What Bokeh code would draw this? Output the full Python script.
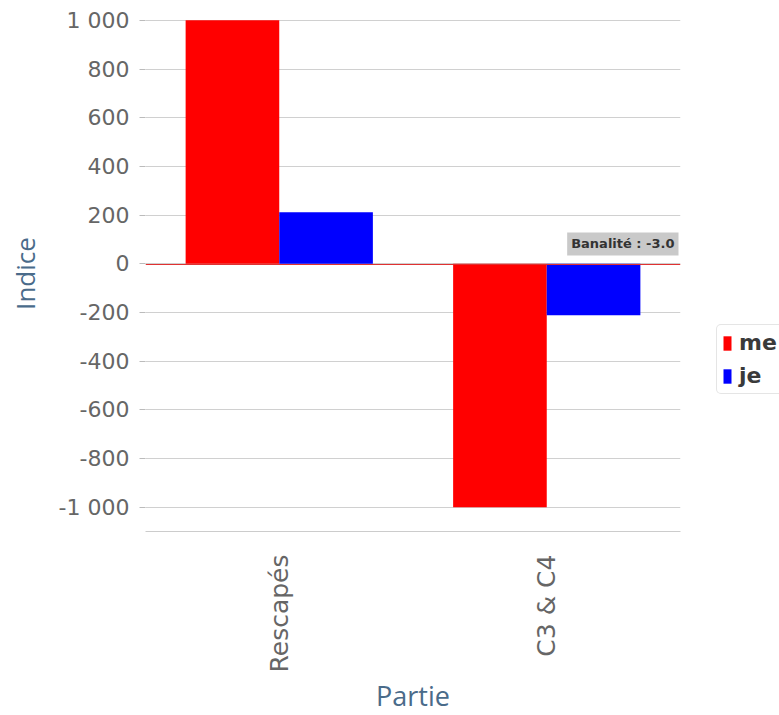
import math
from bokeh.plotting import figure
from bokeh.models import ColumnDataSource, FixedTicker, Span, Label, Legend, LegendItem, Range1d
from bokeh.transform import dodge
from bokeh.embed import file_html
from bokeh.resources import INLINE

categories = ["Rescapés", "C3 & C4"]
me_values = [1000, -1000]
je_values = [212, -212]
threshold = -3.0
threshold_label = "Banalité : -3.0"
y_ticks = [-1000, -800, -600, -400, -200, 0, 200, 400, 600, 800, 1000]
y_tick_labels = ["-1 000", "-800", "-600", "-400", "-200", "0", "200", "400", "600", "800", "1 000"]

src = ColumnDataSource(dict(cat=categories, me=me_values, je=je_values))

p = figure(x_range=categories, y_range=Range1d(-1100, 1020),
           frame_width=535, frame_height=516,
           min_border_left=145, min_border_right=99, min_border_top=15, min_border_bottom=180,
           output_backend="svg", toolbar_location=None)
p.outline_line_color = None
p.background_fill_color = "white"

r_me = p.vbar(x=dodge("cat", -0.175, range=p.x_range), top="me", width=0.35, source=src,
              fill_color="#ff0000", line_color=None)
r_je = p.vbar(x=dodge("cat", 0.175, range=p.x_range), top="je", width=0.35, source=src,
              fill_color="#0000ff", line_color=None)

p.add_layout(Span(location=threshold, dimension="width", line_color="#e03030", line_width=1))
p.add_layout(Label(x=533, y=threshold, x_units="screen", y_units="data", text=threshold_label,
                   text_align="right", text_baseline="bottom", y_offset=9,
                   text_font="DejaVu Sans", text_font_size="13px", text_font_style="bold",
                   text_color="#333333",
                   background_fill_color="#c6c6c6", background_fill_alpha=0.95,
                   padding=4))

# axes
p.yaxis.ticker = FixedTicker(ticks=y_ticks)
p.yaxis.major_label_overrides = {t: l for t, l in zip(y_ticks, y_tick_labels)}
p.yaxis.major_label_text_font = "DejaVu Sans"
p.yaxis.major_label_text_font_size = "22px"
p.yaxis.major_label_text_color = "#666666"
p.yaxis.axis_line_color = None
p.yaxis.major_tick_line_color = "#bbbbbb"
p.yaxis.major_tick_out = 6
p.yaxis.major_tick_in = 0
p.yaxis.minor_tick_line_color = None
p.yaxis.major_label_standoff = 10
p.yaxis.axis_label = "Indice"
p.yaxis.axis_label_text_font = "Open Sans"
p.yaxis.axis_label_text_font_size = "26px"
p.yaxis.axis_label_text_font_style = "normal"
p.yaxis.axis_label_text_color = "#4a6b8a"
p.yaxis.axis_label_standoff = 13

p.xaxis.major_label_orientation = math.pi / 2
p.xaxis.major_label_text_font = "DejaVu Sans"
p.xaxis.major_label_text_font_size = "25px"
p.xaxis.major_label_text_color = "#666666"
p.xaxis.major_label_standoff = 17
p.xaxis.axis_line_color = "#cccccc"
p.xaxis.major_tick_line_color = None
p.xaxis.minor_tick_line_color = None
p.xaxis.axis_label = "Partie"
p.xaxis.axis_label_text_font = "Open Sans"
p.xaxis.axis_label_text_font_size = "27px"
p.xaxis.axis_label_text_font_style = "normal"
p.xaxis.axis_label_text_color = "#4a6b8a"
p.xaxis.axis_label_standoff = 2

p.xgrid.grid_line_color = None
p.ygrid.ticker = FixedTicker(ticks=y_ticks)
p.ygrid.grid_line_color = "#d0d0d0"

legend = Legend(items=[LegendItem(label="me", renderers=[r_me]),
                       LegendItem(label="je", renderers=[r_je])],
                location=(36, 137))
legend.label_text_font = "DejaVu Sans"
legend.label_text_font_size = "22px"
legend.label_text_font_style = "bold"
legend.label_text_color = "#3a3a3a"
legend.glyph_width = 10
legend.glyph_height = 18
legend.label_standoff = 7
legend.spacing = 8
legend.padding = 5
legend.margin = 0
legend.border_line_color = "#cccccc"
legend.border_radius = 5
legend.background_fill_color = "white"
p.add_layout(legend, "right")

open("out.html", "w").write(file_html(p, INLINE))
